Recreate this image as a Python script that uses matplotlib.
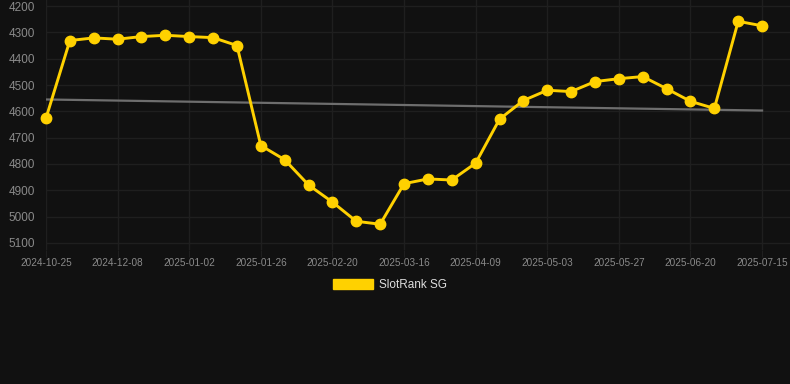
"""
SlotRank SG rank history (dark theme)
"""
import matplotlib
matplotlib.use('Agg')
import matplotlib.pyplot as plt
from matplotlib.patches import Patch

plt.rcParams['font.family'] = ['Liberation Sans', 'DejaVu Sans']

# rank per week (lower is better, axis inverted)
ranks = [4626, 4331, 4321, 4326, 4316, 4311, 4316, 4320, 4350, 4730,
         4784, 4880, 4945, 5018, 5029, 4875, 4857, 4861, 4797, 4630,
         4559, 4520, 4525, 4487, 4476, 4468, 4514, 4562, 4589, 4258,
         4275]
# dates shown on the axis, one per three points
tick_labels = ['2024-10-25', '2024-12-08', '2025-01-02', '2025-01-26',
               '2025-02-20', '2025-03-16', '2025-04-09', '2025-05-03',
               '2025-05-27', '2025-06-20', '2025-07-15']
tick_step = 3
# trend line start / end values
trend = [4555, 4597]

bg = '#111111'
grid_col = '#1f1f1f'
text_col = '#8a8a8a'
gold = '#FFD100'

fig = plt.figure(figsize=(7.9, 3.84), dpi=100, facecolor=bg)
ax = fig.add_axes([46 / 790, 1 - 250 / 384, 744 / 790, 250 / 384])
ax.set_facecolor(bg)

x = list(range(len(ranks)))
ax.plot([x[0], x[-1]], trend, color='#6e6e6e', linewidth=1.6, zorder=2)
ax.plot(x, ranks, color=gold, linewidth=2.1, marker='o', markersize=7.5,
        zorder=3, clip_on=False)

ax.set_xlim(0, 31.17)
ax.set_ylim(5127, 4177)
ax.set_yticks(range(4200, 5101, 100))
ax.set_xticks(x[::tick_step])
ax.set_xticklabels(tick_labels)

for s in ax.spines.values():
    s.set_visible(False)
ax.grid(True, color=grid_col, linewidth=1)
ax.set_axisbelow(True)
ax.tick_params(axis='y', length=0, pad=8, labelsize=8.5, labelcolor=text_col)
ax.tick_params(axis='x', length=5, color=grid_col, pad=1, labelsize=7.2,
               labelcolor=text_col)

handle = Patch(facecolor=gold, edgecolor=gold)
fig.legend([handle], ['SlotRank SG'], loc='center', bbox_to_anchor=(0.494, 0.258),
           frameon=False, handlelength=3.4, handleheight=0.95, fontsize=8.5,
           labelcolor='#dddddd', handletextpad=0.5)

fig.savefig('out.png', dpi=100, facecolor=bg)
